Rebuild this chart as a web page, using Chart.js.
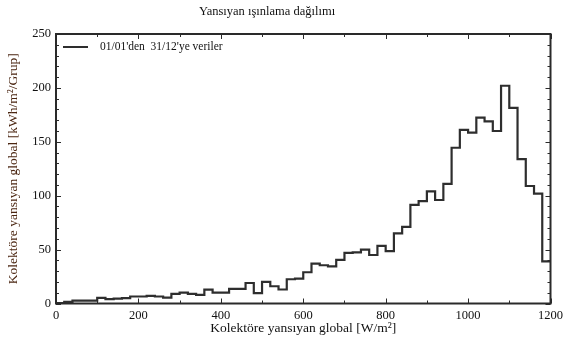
<!DOCTYPE html>
<html>
<head>
<meta charset="utf-8">
<script src="https://cdn.jsdelivr.net/npm/chart.js@4/dist/chart.umd.min.js"></script>
<style>
  html, body { margin: 0; padding: 0; background: #fff; }
  #wrap { width: 568px; height: 347px; }
</style>
</head>
<body>
<div id="wrap"><canvas id="chart" width="568" height="347"></canvas></div>
<script>
// Reflected irradiation distribution, grouped in 20 W/m² classes
const chartTitle = 'Yansıyan ışınlama dağılımı';
const seriesLabel = "01/01'den  31/12'ye veriler";
const xAxisTitle = 'Kolektöre yansıyan global [W/m²]';
const yAxisTitle = 'Kolektöre yansıyan global [kWh/m²/Grup]';

const binWidth = 20; // W/m² per group
const irradiationPerBin = [
  0.3, 1.6, 2.6, 2.6, 2.6, 5.2, 4, 4.5, 5, 6.5,
  6.5, 7, 6.5, 5.5, 9, 10, 9, 8, 12.8, 10,
  10, 13.6, 13.6, 19, 9.6, 20, 16, 13, 22.5, 23,
  29, 37, 35.5, 34.5, 40.5, 47, 47.5, 50, 45, 53.5,
  48.5, 65, 71, 91.5, 95, 104, 96, 111, 144.5, 161,
  158.5, 172.5, 169, 160, 202, 181.5, 134, 109, 102, 39
];
const xTicks = [0, 200, 400, 600, 800, 1000, 1200];
const yTicks = [0, 50, 100, 150, 200, 250];
const xMinorStep = 100;
const yMinorStep = 10;

// Each class is drawn from its lower edge; the last value closes the final class at 1200.
const points = irradiationPerBin.map((v, i) => ({ x: i * binWidth, y: v }));
points.push({ x: irradiationPerBin.length * binWidth, y: irradiationPerBin[irradiationPerBin.length - 1] });

const SERIF = '"Liberation Serif", "DejaVu Serif", serif';
const INK = '#2a2a2a';

// Frame around the plot with inward-pointing ticks on all four sides
const frameTicks = {
  id: 'frameTicks',
  afterDatasetsDraw(chart) {
    const { ctx, chartArea: a, scales: { x, y } } = chart;
    ctx.save();
    ctx.strokeStyle = INK;
    ctx.lineWidth = 1;
    const seg = (x1, y1, x2, y2) => { ctx.beginPath(); ctx.moveTo(x1, y1); ctx.lineTo(x2, y2); ctx.stroke(); };
    for (let v = y.min; v <= y.max; v += yMinorStep) {
      const py = Math.round(y.getPixelForValue(v)) + 0.5;
      const len = yTicks.includes(v) ? 5 : 3;
      seg(a.left, py, a.left + len, py);
      seg(a.right, py, a.right - len, py);
    }
    for (let v = x.min; v <= x.max; v += xMinorStep) {
      const px = Math.round(x.getPixelForValue(v)) + 0.5;
      const len = xTicks.includes(v) ? 5 : 3;
      seg(px, a.bottom, px, a.bottom - len);
      seg(px, a.top, px, a.top + len);
    }
    ctx.lineWidth = 2;
    ctx.strokeRect(a.left, a.top, a.right - a.left, a.bottom - a.top);
    ctx.restore();
  }
};

// Title above the plot and the legend entry inside its top-left corner
const annotations = {
  id: 'annotations',
  afterDraw(chart) {
    const { ctx, chartArea: a } = chart;
    ctx.save();
    ctx.fillStyle = '#111';
    ctx.font = '12.5px ' + SERIF;
    ctx.textAlign = 'center';
    ctx.textBaseline = 'middle';
    ctx.fillText(chartTitle, 267, 12);

    const ds = chart.data.datasets[0];
    const ly = a.top + 13;
    ctx.strokeStyle = ds.borderColor;
    ctx.lineWidth = 2;
    ctx.beginPath();
    ctx.moveTo(a.left + 7, ly);
    ctx.lineTo(a.left + 32, ly);
    ctx.stroke();
    ctx.font = '11.5px ' + SERIF;
    ctx.textAlign = 'left';
    ctx.fillText(ds.label, a.left + 44, ly);
    ctx.restore();
  }
};

new Chart(document.getElementById('chart'), {
  type: 'line',
  data: {
    datasets: [{
      label: seriesLabel,
      data: points,
      stepped: 'before',
      borderColor: '#2e2e2e',
      borderWidth: 2.2,
      pointRadius: 0,
      fill: false
    }]
  },
  options: {
    responsive: false,
    devicePixelRatio: 1,
    animation: false,
    layout: { padding: { top: 34, right: 11, left: 0, bottom: 0 } },
    plugins: { legend: { display: false }, title: { display: false }, tooltip: { enabled: false } },
    scales: {
      x: {
        type: 'linear',
        min: 0, max: 1200,
        afterFit(scale) { scale.height = 43.5; },
        afterBuildTicks(scale) { scale.ticks = xTicks.map(v => ({ value: v })); },
        grid: { display: false, drawTicks: false },
        border: { display: false },
        ticks: { padding: 5, color: '#111', font: { family: SERIF, size: 12.5 }, maxRotation: 0, callback: v => String(v) },
        title: { display: true, text: xAxisTitle, color: '#111', font: { family: SERIF, size: 13.5 }, padding: { top: 0, bottom: 10 } }
      },
      y: {
        min: 0, max: 250,
        afterFit(scale) { scale.width = 56; },
        afterBuildTicks(scale) { scale.ticks = yTicks.map(v => ({ value: v })); },
        grid: { display: false, drawTicks: false },
        border: { display: false },
        ticks: { padding: 5, color: '#111', font: { family: SERIF, size: 12.5 }, callback: v => String(v) },
        title: { display: true, text: yAxisTitle, color: '#4a2510', font: { family: SERIF, size: 13.5 }, padding: { top: 5, bottom: 0 } }
      }
    }
  },
  plugins: [frameTicks, annotations]
});
</script>
</body>
</html>
